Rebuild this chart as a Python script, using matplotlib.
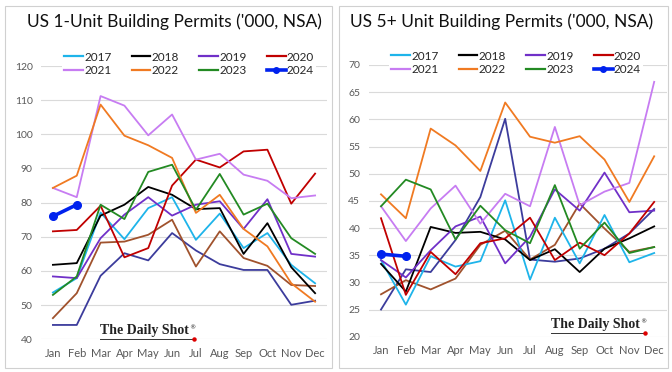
import numpy as np
import matplotlib.pyplot as plt
from matplotlib.patches import Rectangle
from matplotlib.lines import Line2D

months = ['Jan', 'Feb', 'Mar', 'Apr', 'May', 'Jun', 'Jul', 'Aug', 'Sep', 'Oct', 'Nov', 'Dec']

# US 1-unit building permits ('000, NSA)
one_2015 = [44.2, 44.2, 58.6, 65.2, 63.1, 71.1, 66.0, 62.0, 60.3, 60.3, 50.1, 51.3]
one_2016 = [46.2, 53.5, 68.3, 68.6, 70.6, 75.0, 61.3, 71.6, 63.8, 61.5, 55.9, 55.6]
one_2017 = [53.7, 57.9, 77.1, 69.3, 78.4, 81.6, 69.1, 76.8, 66.7, 71.1, 61.8, 56.4]
one_2018 = [61.8, 62.3, 76.2, 79.4, 84.6, 82.3, 78.1, 78.4, 65.0, 74.0, 61.1, 53.5]
one_2019 = [58.4, 57.9, 69.6, 76.5, 81.6, 76.2, 79.4, 80.4, 72.3, 81.0, 65.0, 64.2]
one_2020 = [71.6, 72.0, 79.1, 64.0, 66.7, 85.0, 92.6, 90.3, 95.0, 95.5, 79.7, 88.5]
one_2021 = [84.3, 81.6, 111.2, 108.4, 99.7, 105.8, 92.6, 94.3, 88.2, 86.4, 81.3, 82.1]
one_2022 = [84.3, 87.9, 108.7, 99.6, 96.8, 93.1, 77.0, 82.3, 72.3, 67.2, 56.4, 51.0]
one_2023 = [53.0, 58.4, 79.4, 75.2, 89.0, 91.1, 77.9, 88.4, 76.5, 79.7, 69.6, 65.0]
one_2024 = [76.0, 79.4]

# US 5+ unit building permits ('000, NSA)
five_2015 = [25.0, 32.4, 31.9, 37.8, 45.7, 60.1, 34.2, 33.8, 34.4, 36.2, 39.0, 43.5]
five_2016 = [27.8, 30.4, 28.7, 30.7, 36.9, 39.5, 34.2, 36.9, 44.5, 39.9, 35.6, 36.5]
five_2017 = [34.1, 25.9, 34.8, 32.9, 33.9, 45.1, 30.5, 41.9, 33.5, 42.4, 33.7, 35.4]
five_2018 = [33.4, 28.3, 40.2, 39.1, 39.3, 37.9, 34.1, 36.1, 31.9, 36.2, 38.1, 40.3]
five_2019 = [34.1, 30.9, 35.9, 40.3, 42.1, 33.5, 38.4, 47.1, 43.2, 50.2, 42.9, 43.2]
five_2020 = [41.8, 27.7, 35.6, 31.5, 37.2, 38.1, 41.9, 34.1, 37.3, 35.0, 39.0, 44.8]
five_2021 = [44.0, 37.6, 43.6, 47.8, 40.8, 46.3, 44.0, 58.6, 44.2, 46.7, 48.3, 66.9]
five_2022 = [46.2, 41.8, 58.3, 55.2, 50.5, 63.1, 56.8, 55.7, 56.9, 52.6, 44.8, 53.2]
five_2023 = [44.0, 48.9, 47.1, 37.9, 44.1, 39.6, 37.2, 47.9, 36.2, 41.0, 35.4, 36.5]
five_2024 = [35.2, 34.8]

colors = {'2015': '#3C3C9C', '2016': '#A0522D', '2017': '#1EB4EA', '2018': '#000000',
          '2019': '#7030C8', '2020': '#C00000', '2021': '#C77CF2', '2022': '#F07A22',
          '2023': '#238A23', '2024': '#0022EE'}

# legend is filled column by column, so interleave the two rows
legend_order = ['2017', '2021', '2018', '2022', '2019', '2023', '2020', '2024']

fig = plt.figure(figsize=(6.72, 3.72), dpi=100)
plt.rcParams['font.family'] = ['Lato', 'DejaVu Sans']

# panel frames
for x0, w in [(5, 327), (339, 329)]:
    fig.patches.append(Rectangle((x0 / 672, 4 / 372), w / 672, 362 / 372, transform=fig.transFigure,
                                 fill=False, edgecolor='#D0D0D0', lw=0.8))


def panel(rect, series, ylim, yticks, title, title_x, leg_xy, mark_x, mark_y):
    ax = fig.add_axes(rect)
    x = np.arange(12)
    handles = {}
    for yr, vals in series:
        if yr == '2024':
            ax.plot(x[:len(vals)], vals, color=colors[yr], lw=2.6, marker='o', ms=5.5, zorder=5)
            handles[yr] = Line2D([], [], color=colors[yr], lw=2.6, marker='o', ms=4, label=yr)
        else:
            ax.plot(x, vals, color=colors[yr], lw=1.3)
            handles[yr] = Line2D([], [], color=colors[yr], lw=1.6, label=yr)
    ax.set_xlim(-0.5, 11.5)
    ax.set_ylim(*ylim)
    ax.set_yticks(yticks)
    ax.set_xticks(x)
    ax.set_xticklabels(months)
    ax.grid(axis='y', color='#DADADA', lw=0.8)
    ax.set_axisbelow(True)
    for s in ax.spines.values():
        s.set_visible(False)
    ax.tick_params(length=0, labelsize=7.5, colors='#595959', pad=6)
    ax.tick_params(axis='x', labelsize=8)
    fig.legend(handles=[handles[k] for k in legend_order], loc='center', bbox_to_anchor=leg_xy, ncol=4,
               fontsize=8.5, frameon=True, facecolor='white', edgecolor='none', framealpha=1,
               handlelength=1.6, handletextpad=0.1, columnspacing=1.7, borderpad=0.2,
               labelspacing=0.25, labelcolor='#262626')
    fig.text(title_x, 1 - 22 / 372, title, ha='center', va='center', fontsize=12.5, color='#111111')
    # watermark
    t = fig.text(mark_x, mark_y, 'The Daily Shot', ha='left', va='baseline', fontsize=10,
                 family='Liberation Serif', weight='bold', color='#222222')
    fig.canvas.draw()
    bb = t.get_window_extent()
    fig.text(bb.x1 / 672 + 0.001, mark_y + 0.012, '\u00ae', fontsize=4.5, family='DejaVu Sans', color='#222222')
    uy = mark_y - 0.014
    fig.add_artist(Line2D([bb.x0 / 672, bb.x1 / 672 + 0.006], [uy, uy], transform=fig.transFigure,
                          color='#333333', lw=0.7))
    fig.add_artist(Line2D([bb.x1 / 672 + 0.008], [uy], transform=fig.transFigure, marker='o',
                          ms=2.2, color='#DD0000', lw=0))
    return ax


one = [('2015', one_2015), ('2016', one_2016), ('2017', one_2017), ('2018', one_2018),
       ('2019', one_2019), ('2020', one_2020), ('2021', one_2021), ('2022', one_2022),
       ('2023', one_2023), ('2024', one_2024)]
five = [('2015', five_2015), ('2016', five_2016), ('2017', five_2017), ('2018', five_2018),
        ('2019', five_2019), ('2020', five_2020), ('2021', five_2021), ('2022', five_2022),
        ('2023', five_2023), ('2024', five_2024)]

panel([41 / 672, 1 - 339.3 / 372, 286 / 672, 273.3 / 372], one, (40, 120), range(40, 121, 10),
      "US 1-Unit Building Permits ('000, NSA)", 174 / 672, (189 / 672, 1 - 64 / 372),
      100 / 672, 1 - 334 / 372)
panel([368.6 / 672, 1 - 336.7 / 372, 298 / 672, 271.7 / 372], five, (20, 70), range(20, 71, 5),
      "US 5+ Unit Building Permits ('000, NSA)", 502 / 672, (516 / 672, 1 - 63 / 372),
      551 / 672, 1 - 328 / 372)

fig.savefig('out.png', dpi=100)
